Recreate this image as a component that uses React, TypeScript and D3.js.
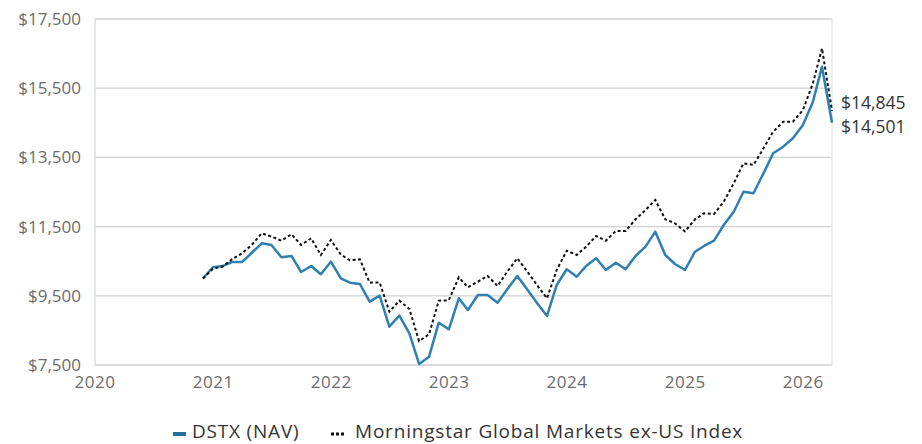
import React, { useRef, useEffect } from 'react';
import * as d3 from 'd3';

// month-end values, Nov 2020 .. Mar 2026
const dstxNav = [
  10000, 10324, 10362, 10477, 10477, 10737, 11018, 10969, 10613, 10651,
  10188, 10362, 10122, 10486, 10006, 9879, 9841, 9330, 9503, 8607,
  8925, 8417, 7529, 7740, 8723, 8532, 9428, 9090, 9524, 9524,
  9301, 9688, 10073, 9680, 9290, 8917, 9813, 10266, 10053, 10362,
  10584, 10246, 10457, 10266, 10651, 10920, 11353, 10680, 10420, 10246,
  10775, 10940, 11093, 11547, 11931, 12509, 12462, 13040, 13619, 13810,
  14052, 14437, 15110, 16122, 14501,
];

const msciIndex = [
  10000, 10283, 10350, 10555, 10729, 10969, 11307, 11210, 11093, 11278,
  10969, 11162, 10680, 11113, 10690, 10525, 10555, 9879, 9885, 9041,
  9360, 9120, 8190, 8390, 9359, 9370, 10035, 9746, 9908, 10073,
  9784, 10197, 10584, 10200, 9810, 9428, 10246, 10804, 10680, 10920,
  11229, 11093, 11373, 11373, 11711, 11980, 12269, 11711, 11596, 11360,
  11711, 11884, 11865, 12220, 12752, 13330, 13281, 13763, 14243, 14532,
  14532, 14870, 15642, 16653, 14845,
];

const yTicks = [7500, 9500, 11500, 13500, 15500, 17500];
const seriesNames = ['DSTX (NAV)', 'Morningstar Global Markets ex-US Index'];

const W = 922;
const H = 444;
const FONT = '"Open Sans", Lato, sans-serif';

const GrowthChart = () => {
  const ref = useRef<SVGSVGElement>(null);

  useEffect(() => {
    document.body.style.margin = '0';
    const margin = { top: 19, right: 90, bottom: 79, left: 95 };
    const width = W - margin.left - margin.right;
    const height = H - margin.top - margin.bottom;

    const svg = d3.select(ref.current)
      .attr('width', W)
      .attr('height', H)
      .append('g')
      .attr('transform', `translate(${margin.left},${margin.top})`);

    const dates = dstxNav.map((_, i) => new Date(2020, 11 + i, 0));

    const x = d3.scaleTime()
      .domain([new Date(2020, 0, 1), new Date(2026, 2, 31)])
      .range([0, width]);
    const y = d3.scaleLinear().domain([7500, 17500]).range([height, 0]);

    // grid
    svg.selectAll('line.grid')
      .data(yTicks)
      .enter().append('line')
      .attr('x1', 0).attr('x2', width)
      .attr('y1', d => y(d)).attr('y2', d => y(d))
      .attr('stroke', '#cfcfcf')
      .attr('stroke-width', 1.3);

    svg.append('line')
      .attr('x1', 0).attr('x2', 0).attr('y1', 0).attr('y2', height)
      .attr('stroke', '#d9d9d9').attr('stroke-width', 1.3);
    svg.append('line')
      .attr('x1', width).attr('x2', width).attr('y1', 0).attr('y2', height)
      .attr('stroke', '#e3e3e3').attr('stroke-width', 1.3);

    const fmt = d3.format(',');
    svg.selectAll('text.ylab')
      .data(yTicks)
      .enter().append('text')
      .attr('x', -14)
      .attr('y', d => y(d))
      .attr('dy', '0.35em')
      .attr('text-anchor', 'end')
      .attr('font-family', FONT)
      .attr('font-size', 17)
      .attr('fill', '#6b6b6b')
      .text(d => '$' + fmt(d));

    const years = d3.timeYear.range(new Date(2020, 0, 1), new Date(2026, 1, 1));
    svg.selectAll('text.xlab')
      .data(years)
      .enter().append('text')
      .attr('x', d => x(d))
      .attr('y', height + 23)
      .attr('text-anchor', 'middle')
      .attr('font-family', FONT)
      .attr('font-size', 17)
      .attr('letter-spacing', 0.5)
      .attr('fill', '#6b6b6b')
      .text(d => d3.timeFormat('%Y')(d));

    const line = d3.line<number>()
      .x((_, i) => x(dates[i]))
      .y(d => y(d));

    svg.append('path')
      .datum(dstxNav)
      .attr('fill', 'none')
      .attr('stroke', '#2f80b0')
      .attr('stroke-width', 2.5)
      .attr('stroke-linejoin', 'round')
      .attr('d', line);

    svg.append('path')
      .datum(msciIndex)
      .attr('fill', 'none')
      .attr('stroke', '#111')
      .attr('stroke-width', 2)
      .attr('stroke-dasharray', '3,2.5')
      .attr('d', line);

    // end labels
    const last = dstxNav.length - 1;
    svg.append('text')
      .attr('x', width + 9)
      .attr('y', y(msciIndex[last]) - 2)
      .attr('font-family', FONT).attr('font-size', 17.5).attr('fill', '#333')
      .text('$' + fmt(msciIndex[last]));
    svg.append('text')
      .attr('x', width + 9)
      .attr('y', y(msciIndex[last]) + 22)
      .attr('font-family', FONT).attr('font-size', 17.5).attr('fill', '#333')
      .text('$' + fmt(dstxNav[last]));

    // legend
    const lg = d3.select(ref.current).append('g').attr('transform', 'translate(0,431)');
    lg.append('line')
      .attr('x1', 173).attr('x2', 186).attr('y1', 3).attr('y2', 3)
      .attr('stroke', '#1f6f9f').attr('stroke-width', 4);
    lg.append('text')
      .attr('x', 192).attr('y', 0).attr('dy', '0.35em')
      .attr('font-family', FONT).attr('font-size', 19).attr('fill', '#333')
      .attr('letter-spacing', 0.8)
      .text(seriesNames[0]);
    lg.append('line')
      .attr('x1', 331).attr('x2', 346).attr('y1', 3).attr('y2', 3)
      .attr('stroke', '#111').attr('stroke-width', 3)
      .attr('stroke-dasharray', '3,2');
    lg.append('text')
      .attr('x', 355).attr('y', 0).attr('dy', '0.35em')
      .attr('font-family', FONT).attr('font-size', 19).attr('fill', '#333')
      .attr('letter-spacing', 0.8)
      .text(seriesNames[1]);

    return () => {
      d3.select(ref.current).selectAll('*').remove();
    };
  }, []);

  return <svg ref={ref} style={{ display: 'block' }}></svg>;
};

export default function App() {
  return <GrowthChart />;
}
